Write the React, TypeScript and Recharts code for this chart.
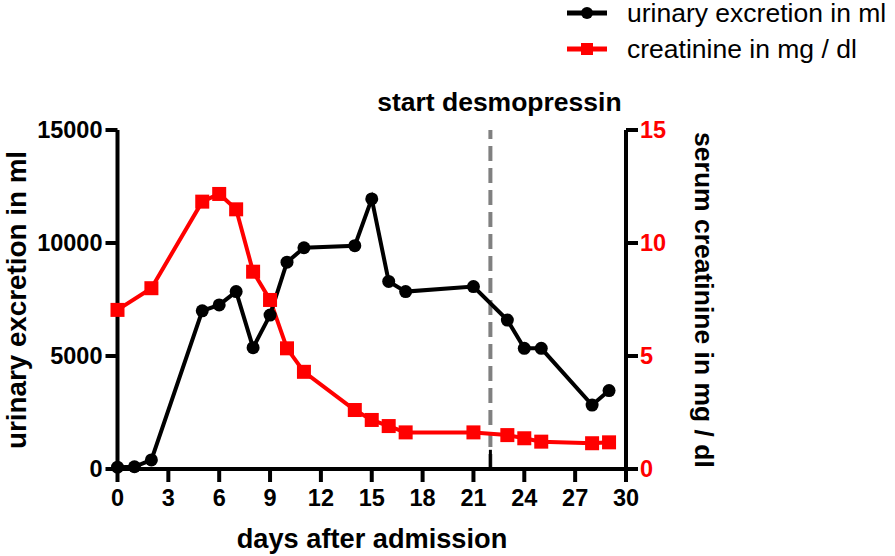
import React from 'react';
import { ComposedChart, Line, XAxis, YAxis, ReferenceLine, Legend } from 'recharts';

const urineDays = [0, 1, 2, 5, 6, 7, 8, 9, 10, 11, 14, 15, 16, 17, 21, 23, 24, 25, 28, 29];
const urineMl = [80, 100, 400, 7000, 7260, 7850, 5370, 6810, 9150, 9790, 9880, 11950, 8300, 7850, 8070, 6590, 5340, 5340, 2830, 3470];
const creatDays = [0, 2, 5, 6, 7, 8, 9, 10, 11, 14, 15, 16, 17, 21, 23, 24, 25, 28, 29];
const creatMgDl = [7.04, 8.0, 11.83, 12.17, 11.49, 8.73, 7.48, 5.34, 4.3, 2.61, 2.17, 1.9, 1.62, 1.62, 1.5, 1.36, 1.21, 1.14, 1.18];
const xTicks = [0, 3, 6, 9, 12, 15, 18, 21, 24, 27, 30];
const leftTicks = [0, 5000, 10000, 15000];
const rightTicks = [0, 5, 10, 15];
const desmopressinDay = 22;

const seriesNames = ['urinary excretion in ml', 'creatinine in mg / dl'];
const FONT = '"Liberation Sans", Arial, Helvetica, sans-serif';

const allDays = Array.from(new Set([...urineDays, ...creatDays])).sort((a, b) => a - b);
const data = allDays.map((d) => {
  const ui = urineDays.indexOf(d);
  const ci = creatDays.indexOf(d);
  return {
    day: d,
    urine: ui >= 0 ? urineMl[ui] : null,
    creat: ci >= 0 ? creatMgDl[ci] : null,
  };
});

const SquareDot = (props: any) => {
  const { cx, cy, index } = props;
  if (cx == null || cy == null || props.value == null) return <g key={'s' + index} />;
  return <rect key={'s' + index} x={cx - 7} y={cy - 7} width={14} height={14} fill="#ff0000" />;
};

const CircleDot = (props: any) => {
  const { cx, cy, index } = props;
  if (cx == null || cy == null || props.value == null) return <g key={'c' + index} />;
  return <circle key={'c' + index} cx={cx} cy={cy} r={6.5} fill="#000" />;
};

const LegendContent = () => (
  <svg width={895} height={70} style={{ display: 'block' }}>
    <line x1={567} x2={607} y1={13} y2={13} stroke="#000" strokeWidth={5} />
    <circle cx={587} cy={13} r={6} fill="#000" />
    <text x={627} y={22} fontFamily={FONT} fontSize={26.5} fill="#000">{seriesNames[0]}</text>
    <line x1={567} x2={607} y1={49} y2={49} stroke="#ff0000" strokeWidth={5} />
    <rect x={581} y={43} width={12} height={12} fill="#ff0000" />
    <text x={627} y={58} fontFamily={FONT} fontSize={26.5} fill="#000">{seriesNames[1]}</text>
  </svg>
);

const tickStyleBlack = { fill: '#000', fontSize: 23.5, fontWeight: 700, fontFamily: FONT };
const tickStyleRed = { fill: '#ff0000', fontSize: 23.5, fontWeight: 700, fontFamily: FONT };

export default function App() {
  return (
    <div style={{ position: 'absolute', left: 0, top: 0, width: 895, height: 556, background: '#fff' }}>
      <ComposedChart
        width={895}
        height={556}
        data={data}
        margin={{ top: 130, right: 179, bottom: 27, left: 0 }}
      >
        <XAxis
          dataKey="day"
          type="number"
          domain={[0, 30]}
          ticks={xTicks}
          interval={0}
          height={60}
          axisLine={{ stroke: '#000', strokeWidth: 4 }}
          tickLine={{ stroke: '#000', strokeWidth: 4 }}
          tickSize={13}
          tickMargin={7}
          tick={tickStyleBlack}
          label={{
            content: () => (
              <text x={372} y={548} textAnchor="middle" fontFamily={FONT} fontSize={27.2} fontWeight={700} fill="#000">
                days after admission
              </text>
            ),
          }}
        />
        <YAxis
          yAxisId="left"
          orientation="left"
          domain={[0, 15000]}
          ticks={leftTicks}
          interval={0}
          width={117.5}
          axisLine={{ stroke: '#000', strokeWidth: 4 }}
          tickLine={{ stroke: '#000', strokeWidth: 4 }}
          tickSize={12}
          tickMargin={3}
          tick={tickStyleBlack}
          label={{
            content: () => (
              <text
                x={16}
                y={300}
                transform="rotate(-90, 16, 300)"
                textAnchor="middle"
                dominantBaseline="central"
                fontFamily={FONT}
                fontSize={27.8}
                fontWeight={700}
                fill="#000"
              >
                urinary excretion in ml
              </text>
            ),
          }}
        />
        <YAxis
          yAxisId="right"
          orientation="right"
          domain={[0, 15]}
          ticks={rightTicks}
          interval={0}
          width={90}
          axisLine={{ stroke: '#000', strokeWidth: 4 }}
          tickLine={{ stroke: '#000', strokeWidth: 4 }}
          tickSize={12}
          tickMargin={2}
          tick={tickStyleRed}
          label={{
            content: () => (
              <text
                x={704}
                y={300}
                transform="rotate(90, 704, 300)"
                textAnchor="middle"
                dominantBaseline="central"
                fontFamily={FONT}
                fontSize={26.5}
                fontWeight={700}
                fill="#000"
              >
                serum creatinine in mg / dl
              </text>
            ),
          }}
        />
        <ReferenceLine
          yAxisId="left"
          x={desmopressinDay}
          stroke="#808080"
          strokeWidth={4}
          strokeDasharray="15 7"
          label={{
            content: (p: any) => {
              const vx = p && p.viewBox ? p.viewBox.x : 490;
              return (
                <text x={vx + 9} y={111} textAnchor="middle" fontFamily={FONT} fontSize={26.5} fontWeight={700} fill="#000">
                  start desmopressin
                </text>
              );
            },
          }}
        />
        <ReferenceLine
          yAxisId="left"
          segment={[{ x: desmopressinDay, y: 0 }, { x: desmopressinDay, y: 850 }]}
          stroke="#000"
          strokeWidth={3}
        />
        <Line
          yAxisId="right"
          dataKey="creat"
          name={seriesNames[1]}
          stroke="#ff0000"
          strokeWidth={4}
          connectNulls
          dot={SquareDot}
          activeDot={false}
          isAnimationActive={false}
        />
        <Line
          yAxisId="left"
          dataKey="urine"
          name={seriesNames[0]}
          stroke="#000"
          strokeWidth={4}
          connectNulls
          dot={CircleDot}
          activeDot={false}
          isAnimationActive={false}
        />
        <Legend
          layout="vertical"
          align="center"
          verticalAlign="middle"
          content={LegendContent}
          wrapperStyle={{ position: 'absolute', top: 0, left: 0, width: 895, height: 70 }}
        />
      </ComposedChart>
    </div>
  );
}
